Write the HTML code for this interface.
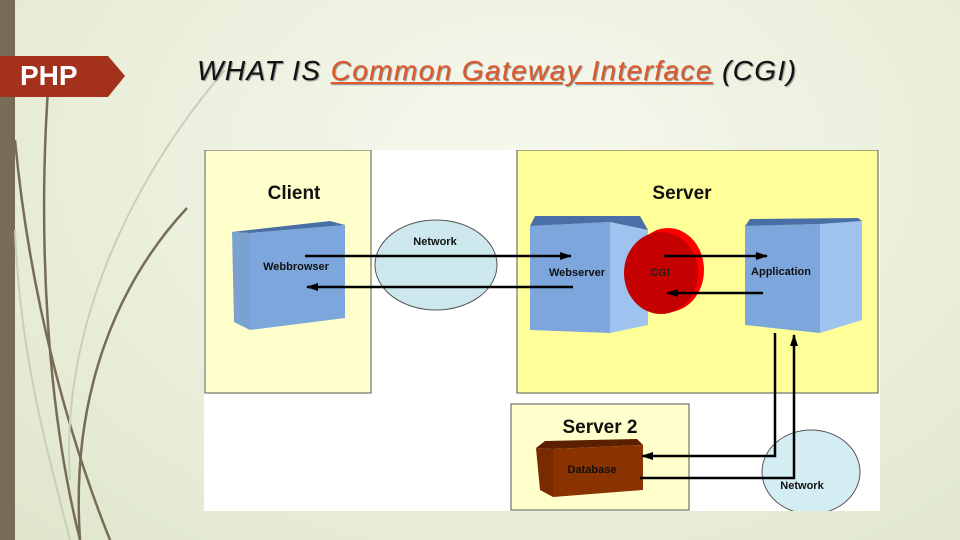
<!DOCTYPE html>
<html><head><meta charset="utf-8"><style>
body{margin:0;width:960px;height:540px;overflow:hidden;font-family:"Liberation Sans",sans-serif;
background:radial-gradient(ellipse at 55% 30%,#f6f8ee 0%,#e9eed9 60%,#dfe6cc 100%);position:relative}
.abs{position:absolute}
</style></head><body>
<div class="abs" style="left:0;top:0;width:15px;height:540px;background:#776c55"></div>
<svg class="abs" style="left:0;top:0" width="960" height="540">
<g fill="none" stroke="#776c55" stroke-width="2.5">
<path d="M15 140 C30 300 70 440 110 540"/>
<path d="M50 60 C35 250 50 420 80 540"/>
<path d="M187 208 C120 280 70 390 80 540"/>
</g>
<g fill="none" stroke="#c9cfb8" stroke-width="2">
<path d="M225 70 C130 180 60 330 70 480"/>
<path d="M15 230 C20 360 50 460 70 540"/>
</g>
<polygon points="0,56 108,56 125,76 108,97 0,97" fill="#a3311b"/>
</svg>
<div class="abs" style="left:20px;top:57px;color:#fff;font-size:28px;font-weight:bold;line-height:38px">PHP</div>
<div class="abs" style="left:197px;top:55px;font-size:28px;letter-spacing:1.4px;font-style:italic;color:#111;text-shadow:1px 1px 1px #888;white-space:nowrap">WHAT IS <span style="color:#e0582a;text-decoration:underline">Common Gateway Interface</span> (CGI)</div>

<svg class="abs" style="left:204px;top:150px" width="676" height="361" viewBox="204 150 676 361">
<defs><marker id="a" markerUnits="userSpaceOnUse" markerWidth="12" markerHeight="10" refX="11" refY="5" orient="auto"><path d="M0,1 L12,5 L0,9z" fill="#000"/></marker></defs>
<rect x="204" y="150" width="676" height="361" fill="#fff"/>
<rect x="205" y="150" width="166" height="243" fill="#ffffcc" stroke="#555"/>
<rect x="517" y="150" width="361" height="243" fill="#ffff99" stroke="#555"/>
<rect x="511" y="404" width="178" height="106" fill="#ffffcc" stroke="#555"/>
<g font-weight="bold" font-size="19" fill="#111" text-anchor="middle">
<text x="294" y="199">Client</text><text x="682" y="199">Server</text><text x="600" y="433">Server 2</text></g>
<polygon points="232,232 250,233 250,330 234,322" fill="#7aa1d0"/>
<polygon points="250,233 345,225 345,318 250,330" fill="#7ca6dc"/>
<polygon points="232,232 330,221 345,225 250,233" fill="#4a6fa6"/>
<polygon points="530,226 610,222 610,333 530,330" fill="#7ca6dc"/>
<polygon points="610,222 648,230 648,325 610,333" fill="#9dc3ee"/>
<polygon points="530,226 535,216 640,216 648,230 610,222" fill="#4a6fa6"/>
<polygon points="745,226 820,224 820,333 745,325" fill="#7ca6dc"/>
<polygon points="820,224 862,221 862,320 820,333" fill="#9dc3ee"/>
<polygon points="745,226 750,219 858,218 862,221 820,224" fill="#4a6fa6"/>
<ellipse cx="668" cy="270" rx="36" ry="42" fill="#f00"/>
<ellipse cx="661" cy="273" rx="37" ry="41" fill="#c40000"/>
<ellipse cx="436" cy="265" rx="61" ry="45" fill="#cce8ec" stroke="#555"/>
<ellipse cx="811" cy="472" rx="49" ry="42" fill="#d4edf2" stroke="#555"/>
<polygon points="536,448 545,441 637,439 643,445 553,449" fill="#5a2000"/>
<polygon points="536,448 553,449 553,497 540,490" fill="#7a2a00"/>
<polygon points="553,449 643,445 643,490 553,497" fill="#8b3300"/>
<g font-weight="bold" font-size="11" fill="#111" text-anchor="middle">
<text x="435" y="245">Network</text><text x="296" y="270">Webbrowser</text>
<text x="577" y="276">Webserver</text><text x="660" y="276" fill="#222">CGI</text>
<text x="781" y="275">Application</text><text x="592" y="473">Database</text>
<text x="802" y="489">Network</text></g>
<g stroke="#000" stroke-width="2.5" fill="none">
<line x1="305" y1="256" x2="571" y2="256" marker-end="url(#a)"/>
<line x1="573" y1="287" x2="307" y2="287" marker-end="url(#a)"/>
<line x1="664" y1="256" x2="767" y2="256" marker-end="url(#a)"/>
<line x1="763" y1="293" x2="667" y2="293" marker-end="url(#a)"/>
<polyline points="775,333 775,456 642,456" marker-end="url(#a)"/>
<polyline points="640,478 794,478 794,335" marker-end="url(#a)"/>
</g>
</svg>
</body></html>
